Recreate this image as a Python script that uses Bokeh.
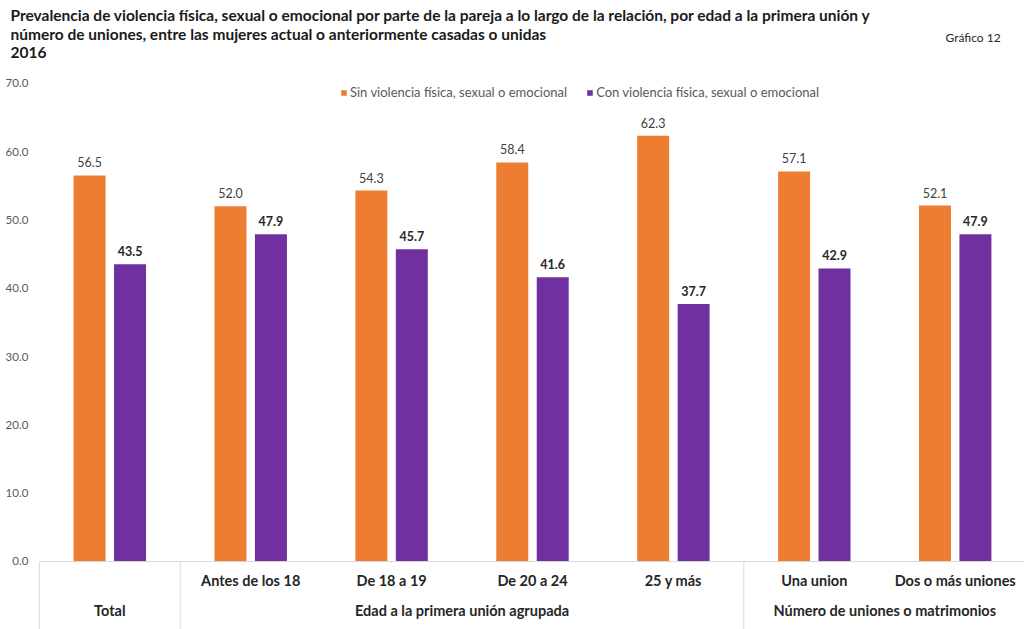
from bokeh.plotting import figure
from bokeh.models import Range1d, ColumnDataSource, Legend, LegendItem, Label
from bokeh.core.properties import value
from bokeh.embed import file_html
from bokeh.resources import INLINE

# ---- data ----
subcats = ["", "Antes de los 18", "De 18 a 19", "De 20 a 24", "25 y más", "Una union", "Dos o más uniones"]
groups = ["Total", "Edad a la primera unión agrupada", "Número de uniones o matrimonios"]
group_spans = [(0, 0), (1, 4), (5, 6)]  # index ranges of categories per group
sin_violencia = [56.5, 52.0, 54.3, 58.4, 62.3, 57.1, 52.1]
con_violencia = [43.5, 47.9, 45.7, 41.6, 37.7, 42.9, 47.9]
yticks = [0, 10, 20, 30, 40, 50, 60, 70]
series_names = ["Sin violencia física, sexual o emocional", "Con violencia física, sexual o emocional"]
title_lines = [
    "Prevalencia de violencia física, sexual o emocional por parte de la pareja a lo largo de la relación, por edad a la primera unión y",
    "número de uniones, entre las mujeres actual o anteriormente casadas o unidas",
    "2016",
]
chart_no = "Gráfico 12"

ORANGE = "#ED7D31"
PURPLE = "#7030A0"
FONT = "Lato"
W, H = 1024, 629

n = len(subcats)
xs = list(range(n))
off = 0.1435
bw = 0.227

p = figure(width=W, height=H, output_backend="svg", toolbar_location=None,
           x_range=Range1d(-0.7757, 6.4918), y_range=Range1d(-9.953, 82.11),
           x_axis_location=None, y_axis_location=None,
           min_border=0, min_border_left=0, min_border_right=0,
           min_border_top=0, min_border_bottom=0)
p.outline_line_color = None
p.xgrid.visible = False
p.ygrid.visible = False
p.background_fill_color = "white"

src = ColumnDataSource(dict(
    x=xs,
    xo=[x - off for x in xs],
    xp=[x + off for x in xs],
    sin=sin_violencia,
    con=con_violencia,
    sin_t=[f"{v:.1f}" for v in sin_violencia],
    con_t=[f"{v:.1f}" for v in con_violencia],
    sub=subcats,
))

r1 = p.vbar(x="xo", top="sin", bottom=0, width=bw, source=src, fill_color=ORANGE, line_color=None)
r2 = p.vbar(x="xp", top="con", bottom=0, width=bw, source=src, fill_color=PURPLE, line_color=None)

# data labels
p.text(x="xo", y="sin", text="sin_t", source=src, y_offset=-8, text_align="center",
       text_baseline="bottom", text_font=value(FONT), text_font_size="12.5px", text_color="#404040")
p.text(x="xp", y="con", text="con_t", source=src, y_offset=-8, text_align="center",
       text_baseline="bottom", text_font=value(FONT), text_font_size="12.5px", text_color="#262626",
       text_font_style="bold")

# axis line and separators
left_edge = -0.5
right_edge = n - 0.5
p.segment(x0=[left_edge], y0=[0], x1=[right_edge + 1], y1=[0], line_color="#D9D9D9", line_width=1)
sep_x = [left_edge] + [g[1] + 0.5 for g in group_spans]
p.segment(x0=sep_x, y0=[0] * len(sep_x), x1=sep_x, y1=[-20] * len(sep_x), line_color="#D9D9D9", line_width=1)

# y tick labels
p.text(x=[left_edge] * len(yticks), y=yticks, text=[f"{t:.1f}" for t in yticks], x_offset=-11,
       text_align="right", text_baseline="middle", text_font=value(FONT), text_font_size="11.5px",
       text_color="#595959")

# category labels
p.text(x="x", y=-2.78, text="sub", source=src, text_align="center", text_baseline="middle",
       text_font=value(FONT), text_font_size="14.5px", text_font_style="bold", text_color="#262626")
gx = [(a + b) / 2 for a, b in group_spans]
p.text(x=gx, y=[-7.17] * len(gx), text=groups, text_align="center", text_baseline="middle",
       text_font=value(FONT), text_font_size="14.5px", text_font_style="bold", text_color="#262626")

# title
for i, t in enumerate(title_lines):
    p.add_layout(Label(x=10, y=H - 14 - 19 * i, x_units="screen", y_units="screen", text=t,
                       text_font=FONT, text_font_size="15.5px", text_font_style="bold",
                       text_color="#1a1a1a", text_baseline="middle"))
p.add_layout(Label(x=945, y=H - 37, x_units="screen", y_units="screen", text=chart_no,
                   text_font=FONT, text_font_size="12px", text_color="#262626", text_baseline="middle"))

# legend
legend = Legend(items=[LegendItem(label=series_names[0], renderers=[r1]),
                       LegendItem(label=series_names[1], renderers=[r2])],
                orientation="horizontal", location=(340, 529),
                glyph_width=7, glyph_height=7, label_height=12, label_width=10,
                label_standoff=3, spacing=19, padding=0, margin=0,
                border_line_color=None, background_fill_color=None,
                label_text_font=FONT, label_text_font_size="13px", label_text_color="#595959")
p.add_layout(legend, "center")

open("out.html", "w").write(file_html(p, INLINE))
